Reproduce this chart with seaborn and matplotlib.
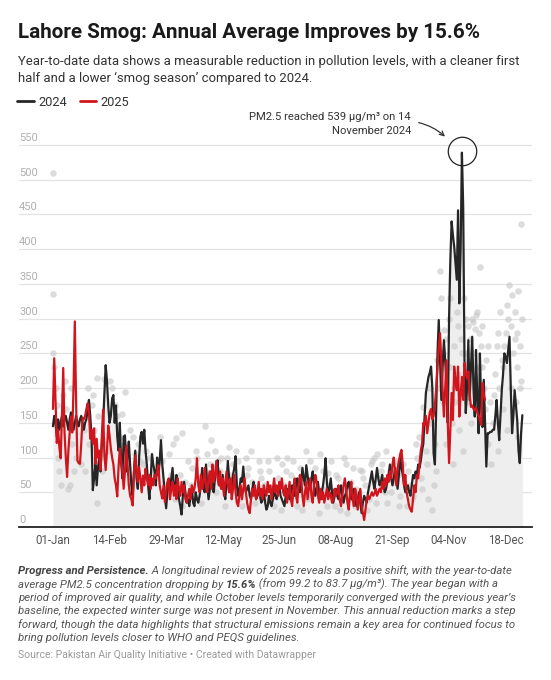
import numpy as np
import pandas as pd
import matplotlib
matplotlib.use("Agg")
import matplotlib.pyplot as plt
import matplotlib.transforms as mtrans
import seaborn as sns
from matplotlib.lines import Line2D

# ---------------- data ----------------
pm25_2024 = [
    145, 160, 150, 130, 155, 140, 150, 160, 145, 155,
    160, 150, 140, 155, 165, 150, 140, 150, 160, 150,
    145, 155, 160, 150, 140, 150, 155, 170, 183, 160,
    130, 53, 70, 90, 60, 85, 100, 80, 120, 150,
    190, 233, 210, 175, 150, 160, 185, 190, 150, 175,
    130, 110, 150, 95, 70, 130, 132, 80, 100, 123,
    90, 60, 45, 80, 110, 70, 55, 100, 130, 137,
    120, 140, 110, 90, 60, 40, 70, 105, 90, 80,
    60, 100, 75, 95, 125, 90, 70, 45, 27, 50,
    65, 55, 70, 85, 60, 50, 75, 60, 40, 30,
    18, 45, 65, 50, 35, 40, 30, 45, 55, 35,
    30, 50, 40, 35, 45, 60, 85, 55, 50, 90,
    60, 40, 55, 80, 60, 50, 70, 85, 96, 70,
    60, 55, 75, 50, 40, 65, 95, 70, 55, 60,
    75, 85, 102, 60, 45, 55, 70, 65, 87, 60,
    50, 55, 60, 45, 40, 55, 65, 50, 40, 45,
    55, 45, 35, 40, 50, 35, 25, 30, 45, 35,
    30, 40, 55, 45, 40, 50, 60, 45, 40, 35,
    30, 45, 55, 45, 40, 50, 60, 55, 45, 60,
    70, 55, 50, 65, 85, 70, 60, 89, 75, 60,
    55, 70, 80, 60, 45, 55, 65, 50, 40, 50,
    60, 75, 99, 65, 45, 55, 70, 50, 35, 45,
    55, 45, 40, 50, 60, 45, 35, 45, 50, 60,
    65, 50, 40, 50, 55, 40, 30, 40, 50, 35,
    20, 35, 45, 40, 35, 50, 60, 70, 80, 65,
    55, 70, 85, 70, 60, 65, 75, 60, 50, 55,
    65, 75, 90, 70, 60, 70, 85, 70, 55, 75,
    100, 85, 75, 60, 50, 55, 60, 50, 45, 60,
    75, 70, 80, 75, 90, 85, 95, 110, 120, 160,
    193, 205, 216, 222, 231, 200, 106, 90, 170, 250,
    298, 240, 183, 230, 269, 240, 207, 150, 300, 384,
    440, 420, 404, 380, 356, 456, 322, 400, 539, 461,
    240, 164, 200, 269, 183, 230, 274, 200, 159, 255,
    180, 135, 250, 173, 144, 212, 150, 87, 135, 135,
    137, 137, 140, 140, 160, 183, 150, 125, 160, 197,
    220, 250, 245, 236, 255, 274, 200, 135, 160, 197,
    175, 154, 110, 92, 135, 161,
]

pm25_2025 = [
    170, 243, 180, 121, 140, 115, 99, 160, 229, 136,
    100, 72, 110, 136, 159, 136, 200, 296, 180, 96,
    92, 91, 120, 157, 155, 160, 170, 178, 165, 127,
    140, 120, 142, 91, 127, 100, 110, 82, 130, 169,
    104, 82, 110, 146, 132, 113, 100, 90, 70, 60,
    44, 86, 113, 95, 79, 55, 80, 117, 90, 60,
    45, 40, 31, 79, 103, 80, 65, 86, 70, 50,
    74, 60, 84, 70, 60, 75, 55, 70, 60, 75,
    70, 80, 89, 60, 50, 41, 60, 36, 50, 65,
    70, 40, 55, 65, 45, 60, 40, 70, 55, 45,
    65, 50, 60, 40, 35, 45, 55, 40, 60, 50,
    55, 70, 99, 60, 50, 75, 55, 65, 85, 60,
    50, 70, 80, 55, 90, 65, 75, 95, 70, 60,
    80, 55, 70, 45, 65, 80, 60, 50, 70, 40,
    55, 75, 50, 35, 30, 45, 60, 40, 55, 70,
    50, 35, 25, 20, 40, 55, 45, 60, 40, 50,
    65, 45, 55, 40, 60, 50, 45, 65, 50, 60,
    40, 55, 70, 50, 60, 45, 65, 55, 70, 50,
    45, 60, 35, 50, 65, 40, 30, 55, 70, 45,
    35, 60, 75, 70, 45, 30, 50, 65, 40, 55,
    70, 45, 35, 60, 75, 65, 45, 35, 55, 40,
    50, 35, 45, 55, 40, 50, 45, 35, 40, 55,
    45, 50, 60, 40, 30, 45, 60, 70, 55, 35,
    25, 50, 65, 40, 30, 55, 45, 25, 40, 55,
    30, 20, 10, 25, 40, 45, 40, 45, 50, 45,
    48, 55, 45, 50, 55, 50, 65, 55, 70, 60,
    75, 65, 80, 70, 90, 100, 80, 60, 85, 95,
    105, 111, 90, 60, 75, 50, 40, 30, 25, 22,
    40, 60, 50, 75, 70, 90, 110, 120, 150, 147,
    160, 135, 150, 165, 170, 155, 160, 175, 200, 230,
    260, 279, 240, 197, 159, 200, 240, 150, 92, 140,
    193, 154, 231, 210, 197, 231, 159, 190, 216, 183,
    236, 221, 215, 224, 193, 173, 175, 170, 168, 172,
    165, 160, 154, 147, 207, 190, 183,
]

# other daily readings shown as grey dots (day of year, value)
dot_days = [
    0, 0, 0, 1, 2, 3, 3, 4, 5, 6, 8, 9, 10, 12, 13, 14, 15, 16, 18, 20, 22, 24, 25, 27, 28, 30,
    31, 32, 34, 34, 35, 37, 38, 40, 40, 42, 44, 46, 48, 50, 52, 54, 56, 56, 58,
    60, 62, 64, 66, 68, 70, 72, 75, 78, 80, 83, 85, 88, 90, 92, 95, 98, 100, 100, 103,
    105, 108, 110, 112, 114, 116, 118, 120, 122, 124, 126, 128, 130, 132, 135, 138, 140,
    142, 145, 148, 150, 152, 155, 158, 160, 162, 165, 168, 170, 172, 175, 178, 180,
    182, 185, 188, 190, 192, 195, 198, 200, 203, 206, 208, 210, 213, 214, 215, 218, 220,
    223, 225, 228, 230, 232, 235, 238, 239, 240, 243, 246, 248, 250, 252, 254, 256, 258,
    260, 262, 265, 268, 270, 272, 275, 278, 280, 283, 285, 286, 288, 290, 292, 294, 295,
    296, 298, 300, 301, 302, 303, 304, 305, 306, 307, 308, 309, 310, 311, 312, 313, 314,
    315, 316, 317, 318, 319, 320, 321, 322, 323, 324, 325, 326, 327, 328, 329, 330, 331,
    332, 333, 334, 335, 336, 337, 338, 340, 341, 342, 344, 345, 346, 347, 348, 349, 350,
    351, 352, 353, 354, 355, 356, 357, 358, 359, 360, 361, 362, 362, 363, 364, 364, 365,
    93, 96, 99, 107, 111, 115, 119, 123, 127, 131, 134, 137, 141, 144, 147, 151, 154,
    157, 161, 164, 167, 171, 174, 177, 181, 184, 187, 191, 194, 197, 201, 204, 207,
    211, 216, 219, 222, 226, 229, 233, 236, 241, 244, 247, 251, 255, 259, 263, 266, 269,
    276, 279, 282, 287, 289, 291, 293, 297, 299, 303, 306, 309, 312, 315, 318, 321,
    324, 327, 331, 334, 338, 343, 346, 350, 353, 356, 359, 361, 363,
]
dot_vals = [
    510, 335, 250, 230, 200, 145, 175, 100, 80, 60, 190, 210, 170, 55, 60, 200, 120, 80, 100, 150, 90, 140, 80, 200, 120, 175,
    190, 140, 215, 34, 160, 100, 80, 120, 213, 110, 210, 200, 175, 160, 130, 162, 195, 120, 85,
    140, 130, 105, 120, 95, 90, 110, 100, 80, 70, 130, 95, 60, 105, 75, 40, 55, 30, 135, 65,
    95, 85, 45, 100, 60, 70, 145, 105, 90, 55, 110, 95, 80, 60, 100, 75, 90,
    110, 40, 70, 100, 85, 65, 50, 95, 70, 40, 80, 55, 30, 70, 90, 60,
    100, 75, 55, 30, 85, 65, 40, 95, 70, 50, 105, 80, 30, 78, 60, 45, 75,
    25, 55, 90, 40, 65, 30, 50, 82, 80, 60, 40, 95, 100, 105, 70, 90, 50,
    35, 80, 65, 75, 45, 90, 30, 60, 45, 100, 130, 70, 173, 110, 40, 150, 24,
    60, 80, 200, 368, 330, 250, 283, 190, 120, 160, 300, 230, 150, 90, 260, 180, 310,
    220, 140, 270, 200, 110, 330, 250, 180, 290, 230, 150, 300, 295, 285, 305, 310, 280,
    375, 260, 230, 200, 170, 240, 120, 180, 90, 150, 220, 260, 110, 200, 310, 240, 170,
    260, 280, 140, 300, 348, 200, 334, 250, 270, 180, 230, 130, 340, 260, 436, 210, 300,
    120, 128, 75, 60, 110, 35, 80, 125, 50, 100, 30, 115, 65, 95, 30, 75, 110,
    35, 80, 60, 95, 45, 100, 25, 80, 40, 95, 60, 25, 110, 45, 85, 20,
    55, 95, 30, 70, 100, 20, 85, 55, 70, 25, 90, 35, 80, 110, 50, 95, 30,
    80, 40, 120, 55, 140, 90, 200, 120, 240, 180, 270, 330, 200, 290, 250, 300,
    270, 250, 230, 290, 260, 190, 280, 230, 320, 290, 310, 280, 200,
]

x_tick_days = [0, 44, 88, 132, 176, 220, 264, 308, 352]
x_tick_labels = ["01-Jan", "14-Feb", "29-Mar", "12-May", "25-Jun", "08-Aug", "21-Sep", "04-Nov", "18-Dec"]
y_ticks = list(range(0, 551, 50))

peak_day = 318
peak_value = 539

df24 = pd.DataFrame({"day": np.arange(len(pm25_2024)), "pm25": pm25_2024})
df25 = pd.DataFrame({"day": np.arange(len(pm25_2025)), "pm25": pm25_2025})
dots = pd.DataFrame({"day": dot_days, "pm25": dot_vals})

# ---------------- style ----------------
sns.set_theme(style="white")
plt.rcParams["font.family"] = ["Roboto", "DejaVu Sans"]

W, H = 551, 680
fig = plt.figure(figsize=(W / 100, H / 100), dpi=100)
renderer = fig.canvas.get_renderer()
AX_L, AX_R, AX_B, AX_T = 19, 532, 527, 134.6
ax = fig.add_axes([AX_L / W, 1 - AX_B / H, (AX_R - AX_L) / W, (AX_B - AX_T) / H])

BLACK = "#262626"
RED = "#d1151c"

ax.fill_between(df24["day"], 0, df24["pm25"], color="#eeeeee", lw=0, zorder=1)
sns.scatterplot(data=dots, x="day", y="pm25", ax=ax, color="#c6c6c6", alpha=0.6,
                s=22, linewidth=0, zorder=2, legend=False)
sns.lineplot(data=df24, x="day", y="pm25", ax=ax, color=BLACK, lw=1.6, zorder=3)
sns.lineplot(data=df25, x="day", y="pm25", ax=ax, color=RED, lw=1.6, zorder=4)

ax.set_xlim(-26.4, 372.5)
ax.set_ylim(0, 565)
ax.set_xlabel("")
ax.set_ylabel("")

ax.set_yticks(y_ticks)
ax.set_yticklabels([str(v) for v in y_ticks])
ax.set_xticks(x_tick_days)
ax.set_xticklabels(x_tick_labels)
ax.grid(axis="y", color="#e3e3e3", lw=0.9, zorder=0)
ax.grid(axis="x", visible=False)
ax.set_axisbelow(True)
for s in ["left", "right", "top"]:
    ax.spines[s].set_visible(False)
ax.spines["bottom"].set_color("#222222")
ax.spines["bottom"].set_linewidth(1.3)
ax.tick_params(axis="y", length=0, pad=0, labelsize=8, labelcolor="#b0b0b0")
ax.tick_params(axis="x", length=0, pad=5, labelsize=8.3, labelcolor="#555555")

off = mtrans.ScaledTranslation(0, 4 / 100, fig.dpi_scale_trans)
for lbl in ax.get_yticklabels():
    lbl.set_horizontalalignment("left")
    lbl.set_verticalalignment("baseline")
    lbl.set_transform(lbl.get_transform() + off)

# peak circle + annotation
ax.plot([peak_day], [peak_value + 3], marker="o", ms=20.5, mfc="none", mec="#222222", mew=0.9, zorder=5)


def fx(px):
    return px / W


def fy(py):
    return 1 - py / H


def fit_text(x_px, y_px, s, width_px, size0=10, **kw):
    t = fig.text(fx(x_px), fy(y_px), s, fontsize=size0, va="baseline", **kw)
    w = t.get_window_extent(renderer=renderer).width
    t.set_fontsize(size0 * width_px / w)
    return t


t1 = fit_text(0, 120.5, "PM2.5 reached 539 µg/m³ on 14", 163, 8, ha="right", color="#333333")
t1.set_x(fx(411))
fig.text(fx(411), fy(133.5), "November 2024", ha="right", va="baseline",
         fontsize=t1.get_fontsize(), color="#333333")
ax.annotate("", xy=(447, H - 138.5), xycoords="figure pixels",
            xytext=(416, H - 122), textcoords="figure pixels",
            arrowprops=dict(arrowstyle="->", color="#333333", lw=0.9,
                            connectionstyle="arc3,rad=-0.15", mutation_scale=8))

# title & subtitle
fit_text(18, 38.3, "Lahore Smog: Annual Average Improves by 15.6%", 464, 15,
         fontweight="bold", color="#1a1a1a")
st = fit_text(18, 65, "Year-to-date data shows a measurable reduction in pollution levels, with a cleaner first",
              503, 9.5, color="#333333")
fig.text(fx(18), fy(81.7), "half and a lower \u2018smog season\u2019 compared to 2024.",
         fontsize=st.get_fontsize(), color="#333333", va="baseline")

# legend
handles = [Line2D([0], [0], color=BLACK, lw=2), Line2D([0], [0], color=RED, lw=2)]
fig.legend(handles, ["2024", "2025"], loc="center left", bbox_to_anchor=(fx(17), fy(102)),
           ncol=2, frameon=False, handlelength=1.3, handletextpad=0.35, columnspacing=1.0,
           fontsize=9.2, borderpad=0, borderaxespad=0, labelcolor="#333333")

# caption with bold segments
cap_lines = [
    [("Progress and Persistence.", "bold"), (" A longitudinal review of 2025 reveals a positive shift, with the year-to-date", "normal")],
    [("average PM2.5 concentration dropping by ", "normal"), ("15.6%", "bold"), (" (from 99.2 to 83.7 µg/m³). The year began with a", "normal")],
    [("period of improved air quality, and while October levels temporarily converged with the previous year\u2019s", "normal")],
    [("baseline, the expected winter surge was not present in November. This annual reduction marks a step", "normal")],
    [("forward, though the data highlights that structural emissions remain a key area for continued focus to", "normal")],
    [("bring pollution levels closer to WHO and PEQS guidelines.", "normal")],
]


def rich_line(y_px, parts, size):
    xpx = 18
    for txt, wt in parts:
        t = fig.text(fx(xpx), fy(y_px), txt, fontsize=size, fontstyle="italic",
                     fontweight=wt, color="#444444" if wt == "bold" else "#555555", va="baseline")
        xpx = t.get_window_extent(renderer=renderer).x1
    return xpx


# measure first line at 8pt to choose size
tmp = []
xm = 18
for txt, wt in cap_lines[0]:
    t = fig.text(fx(xm), fy(700), txt, fontsize=8, fontstyle="italic", fontweight=wt)
    xm = t.get_window_extent(renderer=renderer).x1
    tmp.append(t)
for t in tmp:
    t.remove()
cap_size = 8 * (515 - 18) / (xm - 18)

for i, parts in enumerate(cap_lines):
    rich_line(574.3 + i * 13.35, parts, cap_size)

fit_text(18, 658.3, "Source: Pakistan Air Quality Initiative \u2022 Created with Datawrapper",
         298, 7.8, color="#9a9a9a")

fig.savefig("out.png", dpi=100, facecolor="white")
